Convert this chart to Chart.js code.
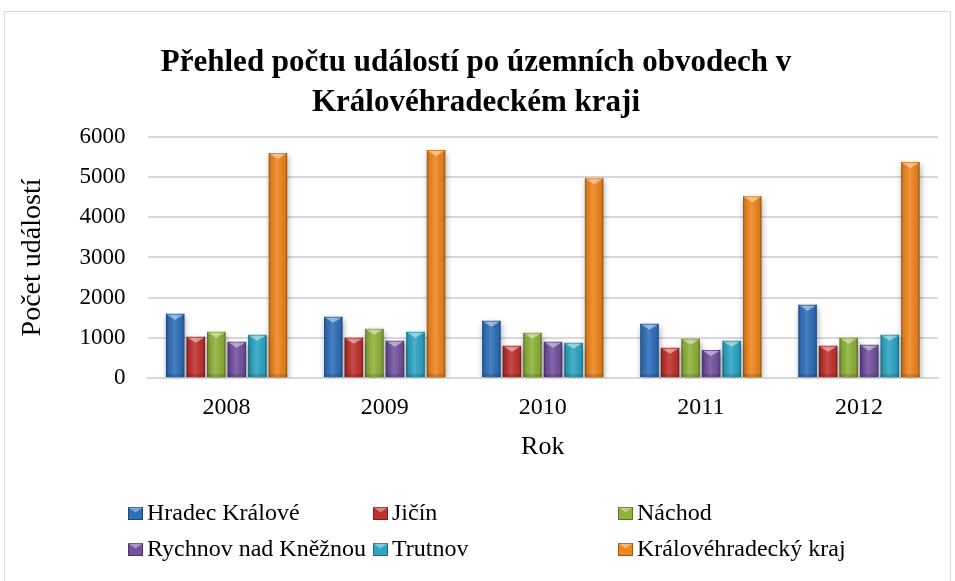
<!DOCTYPE html>
<html><head><meta charset="utf-8">
<script src="https://cdn.jsdelivr.net/npm/chart.js@4.4.0/dist/chart.umd.min.js"></script>
<style>html,body{margin:0;padding:0;background:#fff;}#wrap{width:955px;height:581px;position:relative;overflow:hidden}</style>
</head><body><div id="wrap"><canvas id="c" width="955" height="581"></canvas></div>
<script>
// ---- data ----
const years = ['2008', '2009', '2010', '2011', '2012'];
const hradecKralove = [1600, 1525, 1425, 1350, 1825];
const jicin = [1025, 1000, 800, 750, 800];
const nachod = [1150, 1225, 1125, 975, 1000];
const rychnov = [900, 925, 900, 700, 825];
const trutnov = [1075, 1150, 875, 925, 1075];
const kralovehradeckyKraj = [5600, 5675, 4975, 4525, 5375];
const seriesNames = ['Hradec Králové', 'Jičín', 'Náchod', 'Rychnov nad Kněžnou', 'Trutnov', 'Královéhradecký kraj'];
const yTickMin = 0, yTickMax = 6000, yTickStep = 1000;
const titleLines = ['Přehled počtu událostí po územních obvodech v', 'Královéhradeckém kraji'];
const xTitle = 'Rok';
const yTitle = 'Počet událostí';

const seriesValues = [hradecKralove, jicin, nachod, rychnov, trutnov, kralovehradeckyKraj];
const colors = ['#2f6fba', '#c0322f', '#8fb23a', '#7352a0', '#2ea6c4', '#f0861e'];
const FONT = '"Liberation Serif", "Times New Roman", serif';

const frame = {
  id: 'frame',
  beforeDraw(chart) {
    const c = chart.ctx;
    c.save();
    c.fillStyle = '#fff';
    c.fillRect(0, 0, chart.width, chart.height);
    c.strokeStyle = '#d9d9d9';
    c.lineWidth = 1;
    c.strokeRect(4.5, 11.5, 946, 620);
    c.restore();
  }
};

const bevel = {
  id: 'bevel',
  beforeDatasetsDraw(chart) {
    const c = chart.ctx;
    c.save();
    c.shadowColor = 'rgba(0,0,0,0.35)';
    c.shadowBlur = 6;
    c.shadowOffsetX = 1;
    c.shadowOffsetY = 3;
  },
  afterDatasetsDraw(chart) {
    const c = chart.ctx;
    c.restore();
    chart.data.datasets.forEach((ds, i) => {
      const meta = chart.getDatasetMeta(i);
      meta.data.forEach(bar => {
        const w = bar.width, l = bar.x - w / 2, t = bar.y, b = bar.base;
        c.save();
        const g = c.createLinearGradient(l, 0, l + w, 0);
        g.addColorStop(0, 'rgba(0,0,0,0.35)');
        g.addColorStop(0.12, 'rgba(0,0,0,0.08)');
        g.addColorStop(0.45, 'rgba(255,255,255,0.12)');
        g.addColorStop(0.88, 'rgba(0,0,0,0.08)');
        g.addColorStop(1, 'rgba(0,0,0,0.4)');
        c.fillStyle = g;
        c.fillRect(l, t, w, b - t);
        c.beginPath();
        c.moveTo(l + 1, t + 1);
        c.lineTo(l + w - 1, t + 1);
        c.lineTo(l + w / 2, t + 6);
        c.closePath();
        c.fillStyle = 'rgba(255,255,255,0.45)';
        c.fill();
        c.fillStyle = 'rgba(0,0,0,0.12)';
        c.fillRect(l, b - 3, w, 3);
        c.restore();
      });
    });
  }
};

const gridLegend = {
  id: 'gridLegend',
  afterDraw(chart) {
    const c = chart.ctx;
    const colX = [128, 373, 618];
    const rowY = [513, 549];
    c.save();
    c.font = '24px ' + FONT;
    c.textBaseline = 'middle';
    chart.data.datasets.forEach((ds, i) => {
      const x = colX[i % 3], y = rowY[Math.floor(i / 3)];
      c.fillStyle = ds.backgroundColor;
      c.fillRect(x, y - 6, 15, 13);
      c.beginPath();
      c.moveTo(x, y - 6); c.lineTo(x + 15, y - 6); c.lineTo(x + 7.5, y - 0.5); c.closePath();
      c.fillStyle = 'rgba(255,255,255,0.4)';
      c.fill();
      c.strokeStyle = 'rgba(0,0,0,0.35)';
      c.lineWidth = 1;
      c.strokeRect(x + 0.5, y - 5.5, 14, 12);
      c.fillStyle = '#000';
      c.fillText(ds.label, x + 19, y + 1);
    });
    c.restore();
  }
};

new Chart(document.getElementById('c'), {
  type: 'bar',
  data: {
    labels: years,
    datasets: seriesNames.map((n, i) => ({
      label: n,
      data: seriesValues[i],
      backgroundColor: colors[i],
      borderWidth: 0,
      categoryPercentage: 0.78,
      barPercentage: 0.9
    }))
  },
  options: {
    responsive: false,
    animation: false,
    events: [],
    layout: { padding: { left: 14, right: 17, top: 0, bottom: 118 } },
    plugins: {
      legend: { display: false },
      tooltip: { enabled: false },
      title: {
        display: true,
        text: titleLines,
        color: '#000',
        font: { family: FONT, size: 31, weight: 'bold', lineHeight: 1.29 },
        padding: { top: 43, bottom: 14 }
      }
    },
    scales: {
      x: {
        grid: { display: false },
        border: { color: '#d9d9d9', width: 2 },
        ticks: { color: '#000', font: { family: FONT, size: 24 }, padding: 7 },
        title: { display: true, text: xTitle, color: '#000', font: { family: FONT, size: 26 }, padding: { top: 3, bottom: 0 } }
      },
      y: {
        min: yTickMin, max: yTickMax,
        ticks: { stepSize: yTickStep, color: '#000', font: { family: FONT, size: 23 }, padding: 22, callback: v => String(v) },
        grid: { color: '#d9d9d9', lineWidth: 2, drawTicks: false },
        border: { display: false },
        title: { display: true, text: yTitle, color: '#000', font: { family: FONT, size: 28 }, padding: { top: 2, bottom: 0 } },
        afterFit(scale) { scale.width = 133.5; }
      }
    }
  },
  plugins: [frame, bevel, gridLegend]
});
</script>
</body></html>
